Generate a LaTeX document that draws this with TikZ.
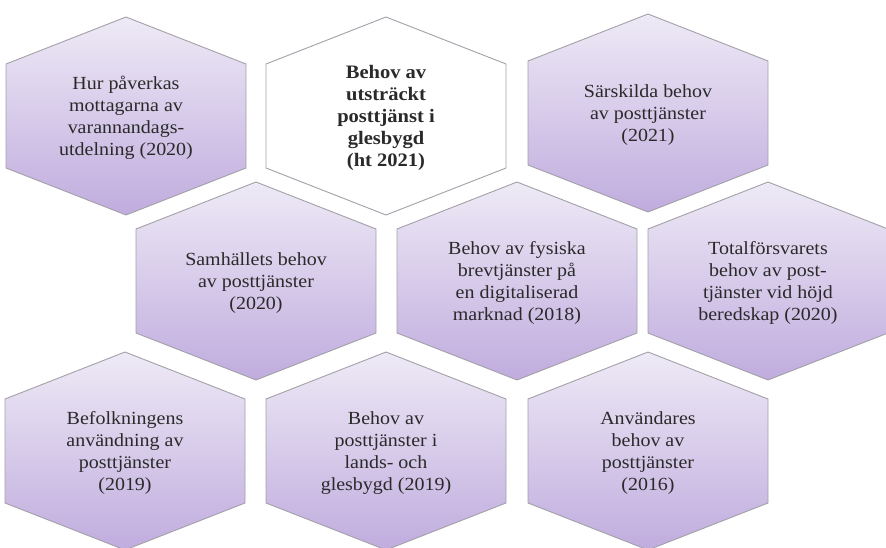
\documentclass[tikz,border=0pt]{standalone}
\usepackage{fontspec}
\setmainfont[FakeStretch=1.08]{Liberation Serif}
\usetikzlibrary{positioning}

\definecolor{hexTop}{HTML}{EEEAF6}
\definecolor{hexBot}{HTML}{C0ACDE}
\definecolor{hexEdge}{HTML}{A3A0A8}
\definecolor{hexInk}{HTML}{2A2A2A}

\begin{document}
\begin{tikzpicture}[
  x=1pt, y=-1pt,
  font=\fontsize{18.5}{22}\selectfont,
  cell/.style={draw=hexEdge, line width=0.9pt, line join=round,
               top color=hexTop, bottom color=hexBot},
  cellwhite/.style={draw=hexEdge, line width=0.9pt, line join=round, fill=white},
  celltext/.style={align=center, text=hexInk, inner sep=0pt}
]
\useasboundingbox (0,0) rectangle (886,548);
\clip (0,0) rectangle (886,548);

% the white hexagon (current study)
\draw[cellwhite] (386,17) -- (506,64) -- (506,168) -- (386,215)
  -- (266,168) -- (266,64) -- cycle;
\node[celltext, font=\fontsize{19}{22}\selectfont\bfseries] (glesb) at (386,118)
  {Behov av\\utsträckt\\posttjänst i\\glesbygd\\(ht 2021)};

% the purple hexagons
\foreach \nm/\cx/\cy/\txt in {
  hurp/126/116/{Hur påverkas\\mottagarna av\\varannandags-\\utdelning (2020)},
  sarsk/648/113/{Särskilda behov\\av posttjänster\\(2021)},
  samh/256/281/{Samhällets behov\\av posttjänster\\(2020)},
  fysis/517/281/{Behov av fysiska\\brevtjänster på\\en digitaliserad\\marknad (2018)},
  totalf/768/281/{Totalförsvarets\\behov av post-\\tjänster vid höjd\\beredskap (2020)},
  befolk/125/451/{Befolkningens\\användning av\\posttjänster\\(2019)},
  lands/386/451/{Behov av\\posttjänster i\\lands- och\\glesbygd (2019)},
  anvand/648/451/{Användares\\behov av\\posttjänster\\(2016)}} {
  \draw[cell] (\cx,\cy-99) -- (\cx+120,\cy-52) -- (\cx+120,\cy+52)
    -- (\cx,\cy+99) -- (\cx-120,\cy+52) -- (\cx-120,\cy-52) -- cycle;
  \node[celltext] (\nm) at (\cx,\cy+2) {\txt};
}
\end{tikzpicture}
\end{document}
